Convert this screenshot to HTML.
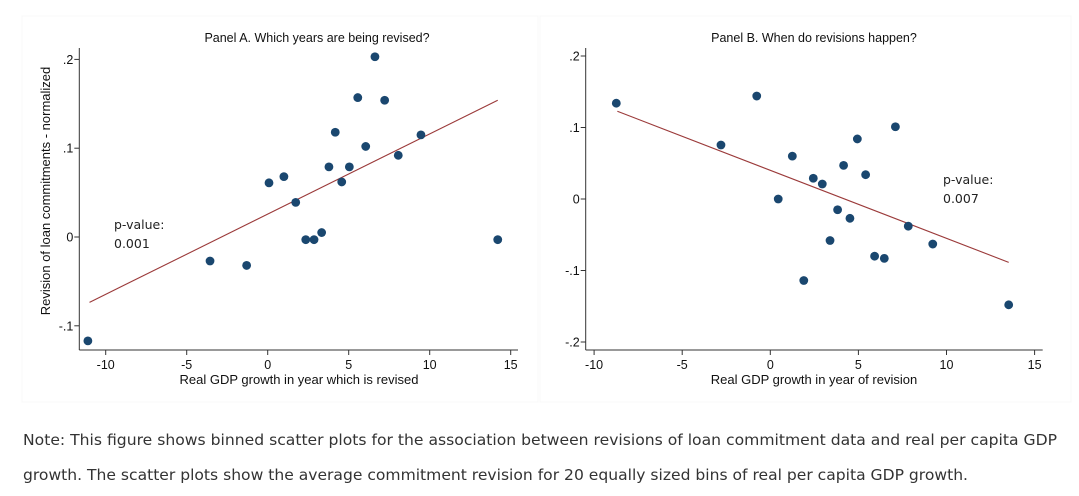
<!DOCTYPE html>
<html><head><meta charset="utf-8"><style>
body{margin:0;background:#fff;width:1079px;height:496px;overflow:hidden;position:relative;font-family:"Liberation Sans",sans-serif}
svg{position:absolute;left:0;top:0}
.note{position:absolute;left:23px;font-family:"DejaVu Sans",sans-serif;font-size:15px;color:#333;white-space:nowrap;transform-origin:0 0}
</style></head><body>
<svg id="chart" width="1079" height="405">
<rect x="22" y="16" width="516" height="386" fill="none" stroke="#f8f8f8"/>
<rect x="540" y="16" width="531" height="386" fill="none" stroke="#f8f8f8"/>
</svg>
<div class="note" id="n1" style="top:431px">Note: This figure shows binned scatter plots for the association between revisions of loan commitment data and real per capita GDP</div>
<div class="note" id="n2" style="top:466px">growth. The scatter plots show the average commitment revision for 20 equally sized bins of real per capita GDP growth.</div>
<script>
// Panel A data
const aX = [-11.1,-3.56,-1.3,0.08,1.0,1.73,2.35,2.86,3.33,3.78,4.17,4.57,5.04,5.56,6.05,6.62,7.22,8.06,9.46,14.2];
const aY = [-0.117,-0.027,-0.032,0.061,0.068,0.039,-0.003,-0.003,0.005,0.079,0.118,0.062,0.079,0.157,0.102,0.203,0.154,0.092,0.115,-0.003];
const aFitX = [-11.0,14.2];
const aFitY = [-0.0736,0.154];
const aXTicks = [-10,-5,0,5,10,15];
const aYTicks = [-0.1,0,0.1,0.2];
const aYLabels = ["-.1","0",".1",".2"];
// Panel B data
const bX = [-8.74,-2.8,-0.77,0.45,1.25,1.9,2.44,2.95,3.39,3.82,4.16,4.52,4.94,5.41,5.92,6.47,7.1,7.83,9.22,13.53];
const bY = [0.134,0.0755,0.144,0,0.06,-0.114,0.029,0.021,-0.058,-0.015,0.047,-0.027,0.084,0.034,-0.08,-0.083,0.101,-0.038,-0.063,-0.148];
const bFitX = [-8.68,13.53];
const bFitY = [0.1227,-0.0886];
const bXTicks = [-10,-5,0,5,10,15];
const bYTicks = [-0.2,-0.1,0,0.1,0.2];
const bYLabels = ["-.2","-.1","0",".1",".2"];

const svg = document.getElementById('chart');
const NS = 'http://www.w3.org/2000/svg';
function mk(tag, attrs, parent){const e=document.createElementNS(NS,tag);for(const k in attrs)e.setAttribute(k,attrs[k]);(parent||svg).appendChild(e);return e;}

function panel(cfg){
  const g = mk('g',{});
  
  
  const sx = v => cfg.x0 + v*cfg.kx;
  const sy = v => cfg.y0 - v*cfg.ky;
  const ax = mk('line',{x1:cfg.left,y1:cfg.top,x2:cfg.left,y2:cfg.bottom,stroke:'#333','stroke-width':1},g);
  
  
  const bx = mk('line',{x1:cfg.left,y1:cfg.bottom,x2:cfg.right,y2:cfg.bottom,stroke:'#333','stroke-width':1},g);
  
  
  cfg.xt.forEach(v=>{
    const X=sx(v);
    const t=mk('line',{x1:X,y1:cfg.bottom,x2:X,y2:cfg.bottom+5,stroke:'#333'},g);
    
    
    const l=mk('text',{x:X,y:369,'text-anchor':'middle','font-size':12.5,fill:'#111'},g);
    l.textContent=String(v);
    
    
  });
  cfg.yt.forEach((v,i)=>{
    const Y=sy(v);
    const t=mk('line',{x1:cfg.left-5,y1:Y,x2:cfg.left,y2:Y,stroke:'#333'},g);
    
    
    const l=mk('text',{x:cfg.left-6,y:Y+4.5,'text-anchor':'end','font-size':12.5,fill:'#111'},g);
    l.textContent=cfg.yl[i];
    
    
  });
  const fit=mk('line',{x1:sx(cfg.fx[0]),y1:sy(cfg.fy[0]),x2:sx(cfg.fx[1]),y2:sy(cfg.fy[1]),stroke:'#9b3a3a','stroke-width':1.1},g);
  
  
  cfg.px.forEach((v,i)=>{
    const c=mk('circle',{cx:sx(v),cy:sy(cfg.py[i]),r:4.4,fill:'#1a476f'},g);
    
    
  });
  const ti=mk('text',{x:cfg.tx,y:42,'text-anchor':'middle','font-size':12.5,fill:'#111'},g);
  ti.textContent=cfg.title;
  
  
  const xl=mk('text',{x:cfg.xlx,y:384,'text-anchor':'middle','font-size':13,fill:'#111'},g);
  xl.textContent=cfg.xlab;
  
  
  const p1=mk('text',{x:cfg.pvx,y:cfg.pvy,'font-size':12.5,'font-family':'DejaVu Sans, sans-serif',fill:'#222'},g);
  p1.textContent='p-value:';
  
  
  const p2=mk('text',{x:cfg.pvx,y:cfg.pvy+19,'font-size':12.5,'font-family':'DejaVu Sans, sans-serif',fill:'#222'},g);
  p2.textContent=cfg.pv;
  
  
}
panel({name:'panel-a',x0:267.7,kx:16.2,y0:237,ky:888,left:79.3,right:518,top:48,bottom:350,
  xt:aXTicks,yt:aYTicks,yl:aYLabels,px:aX,py:aY,fx:aFitX,fy:aFitY,
  title:'Panel A. Which years are being revised?',tx:317,xlab:'Real GDP growth in year which is revised',xlx:299,pvx:114,pvy:229,pv:'0.001'});
panel({name:'panel-b',x0:770.3,kx:17.62,y0:199,ky:715,left:585.7,right:1042.7,top:48,bottom:350,
  xt:bXTicks,yt:bYTicks,yl:bYLabels,px:bX,py:bY,fx:bFitX,fy:bFitY,
  title:'Panel B. When do revisions happen?',tx:814,xlab:'Real GDP growth in year of revision',xlx:814,pvx:943,pvy:184,pv:'0.007'});
const yt=mk('text',{x:0,y:0,'text-anchor':'middle','font-size':13,fill:'#111',transform:'translate(50,191) rotate(-90)'});
yt.textContent='Revision of loan commitments - normalized';


// fit note text widths to reference
[['n1',1034],['n2',945]].forEach(([id,w])=>{
  const el=document.getElementById(id);
  const s=w/el.getBoundingClientRect().width;
  el.style.transform='scaleX('+s+')';
});
</script>
</body></html>
